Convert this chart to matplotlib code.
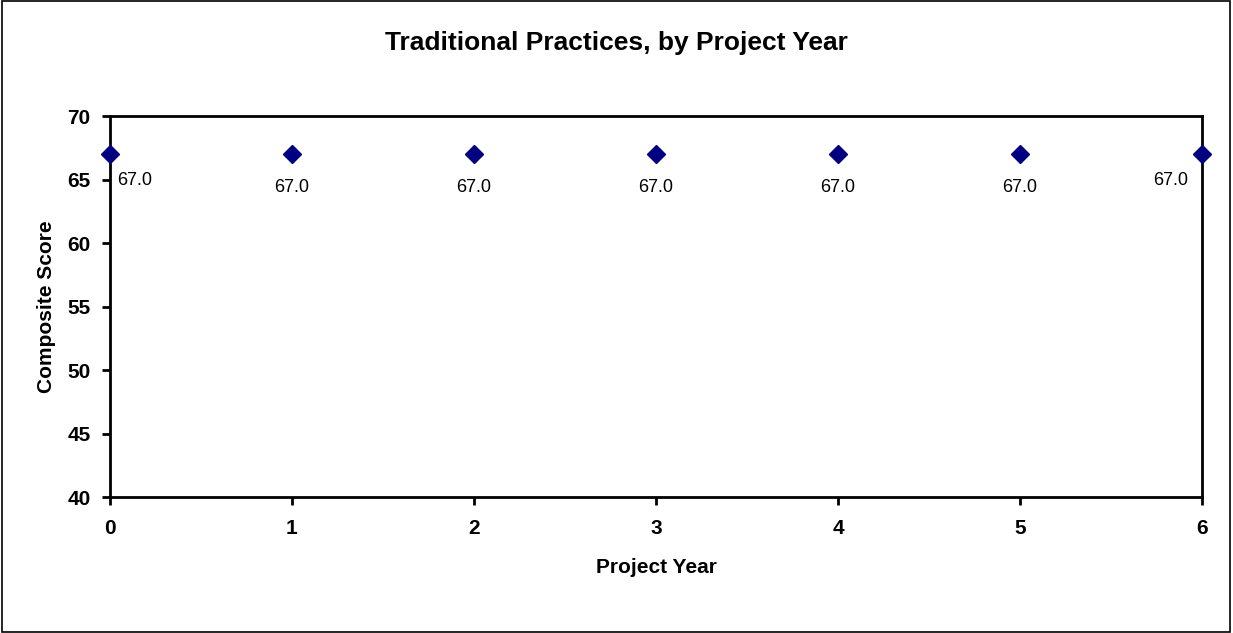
import matplotlib.pyplot as plt
from matplotlib.patches import Rectangle

plt.rcParams['font.family'] = ['Liberation Sans', 'DejaVu Sans']

years = [0, 1, 2, 3, 4, 5, 6]
scores = [67.0, 67.0, 67.0, 67.0, 67.0, 67.0, 67.0]

fig = plt.figure(figsize=(12.33, 6.33), dpi=100)
ax = fig.add_axes([0.0892, 0.2148, 0.8857, 0.6019])

ax.plot(years, scores, linestyle='none', marker='D', markersize=9,
        color='#000080', clip_on=False, zorder=5)

# labels: first one right-below, last one left-below, rest centered below
for x, y in zip(years, scores):
    if x == years[0]:
        ax.annotate(f"{y:.1f}", (x, y), xytext=(5, -19), textcoords='offset points',
                    ha='left', va='center', fontsize=13)
    elif x == years[-1]:
        ax.annotate(f"{y:.1f}", (x, y), xytext=(-10, -19), textcoords='offset points',
                    ha='right', va='center', fontsize=13)
    else:
        ax.annotate(f"{y:.1f}", (x, y), xytext=(0, -24), textcoords='offset points',
                    ha='center', va='center', fontsize=13)

ax.set_xlim(0, 6)
ax.set_ylim(40, 70)
ax.set_xticks(years)
ax.set_yticks(range(40, 71, 5))
for s in ax.spines.values():
    s.set_linewidth(2)
ax.tick_params(width=2, length=6, labelsize=15, pad=8)
ax.tick_params(axis='x', pad=10)
for lab in ax.get_xticklabels() + ax.get_yticklabels():
    lab.set_fontweight('bold')

ax.set_xlabel("Project Year", fontsize=15, fontweight='bold', labelpad=14)
ax.set_ylabel("Composite Score", fontsize=15, fontweight='bold', labelpad=8)
fig.text(0.5, 0.932, "Traditional Practices, by Project Year", ha='center', va='center',
         fontsize=19, fontweight='bold')

fig.patches.append(Rectangle((0.0015, 0.002), 0.996, 0.996, transform=fig.transFigure,
                             fill=False, edgecolor='black', linewidth=1.2))

fig.savefig("out.png", dpi=100)
